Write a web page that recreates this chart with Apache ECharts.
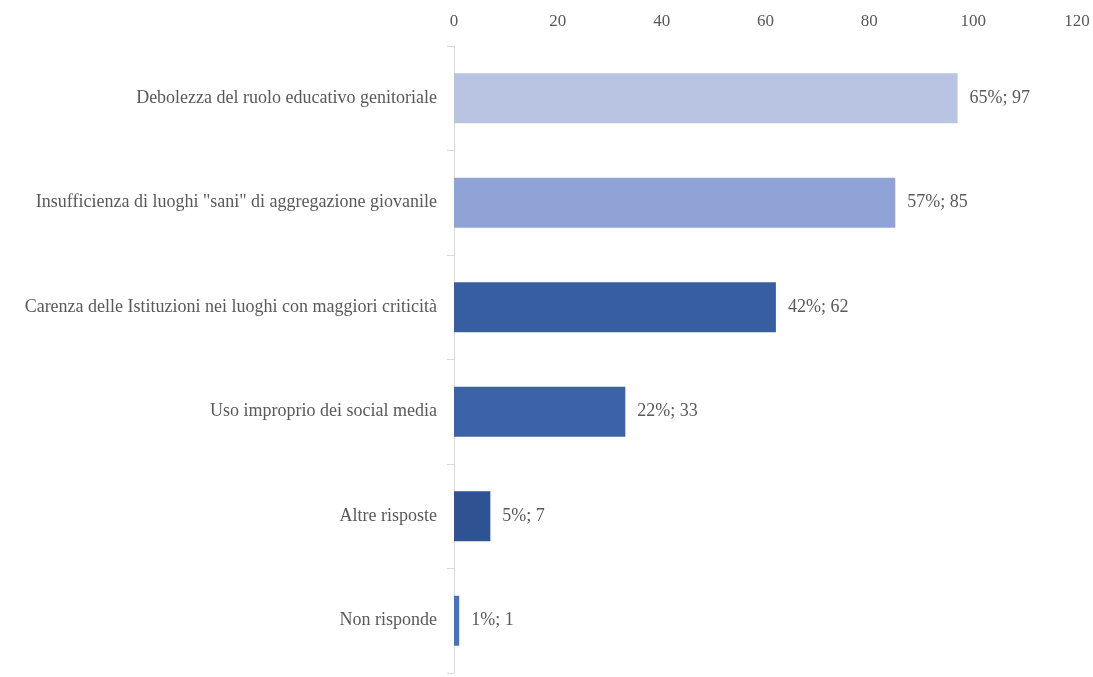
<!DOCTYPE html>
<html>
<head>
<meta charset="utf-8">
<style>
  html, body { margin: 0; padding: 0; background: #ffffff; }
  #chart { width: 1093px; height: 677px; }
</style>
<script src="https://cdn.jsdelivr.net/npm/echarts@6/dist/echarts.min.js"></script>
</head>
<body>
<div id="chart"></div>
<script>
// Answer categories, top to bottom
const categories = [
  'Debolezza del ruolo educativo genitoriale',
  'Insufficienza di luoghi "sani" di aggregazione giovanile',
  'Carenza delle Istituzioni nei luoghi con maggiori criticità',
  'Uso improprio dei social media',
  'Altre risposte',
  'Non risponde'
];
// Number of responses per category
const counts = [97, 85, 62, 33, 7, 1];
// Share of respondents (%)
const shares = [65, 57, 42, 22, 5, 1];
// Bar fill per category
const barColors = ['#b9c4e3', '#8fa3d6', '#365ea1', '#3c63aa', '#2f5392', '#4472c4'];
// Value axis ticks
const axisMin = 0, axisMax = 120, axisStep = 20;

const font = '"Liberation Serif", "DejaVu Serif", serif';
const chart = echarts.init(document.getElementById('chart'));

chart.setOption({
  animation: false,
  textStyle: { fontFamily: font },
  grid: { left: 454, right: 16, top: 46, bottom: 4, containLabel: false },
  xAxis: {
    type: 'value',
    position: 'top',
    min: axisMin, max: axisMax, interval: axisStep,
    axisLine: { show: false },
    axisTick: { show: false },
    splitLine: { show: false },
    axisLabel: { color: '#595959', fontSize: 17, fontFamily: font, margin: 16 }
  },
  yAxis: {
    type: 'category',
    inverse: true,
    data: categories,
    axisLine: { show: true, lineStyle: { color: '#d9d9d9', width: 1 } },
    axisTick: { show: true, length: 7, lineStyle: { color: '#d9d9d9' } },
    axisLabel: { color: '#595959', fontSize: 18, fontFamily: font, margin: 17 }
  },
  series: [{
    type: 'bar',
    barWidth: 50,
    data: counts.map((v, i) => ({
      value: v,
      itemStyle: { color: barColors[i] }
    })),
    label: {
      show: true,
      position: 'right',
      distance: 12,
      color: '#595959',
      fontSize: 18,
      fontFamily: font,
      formatter: p => shares[p.dataIndex] + '%; ' + counts[p.dataIndex]
    }
  }]
});
</script>
</body>
</html>
